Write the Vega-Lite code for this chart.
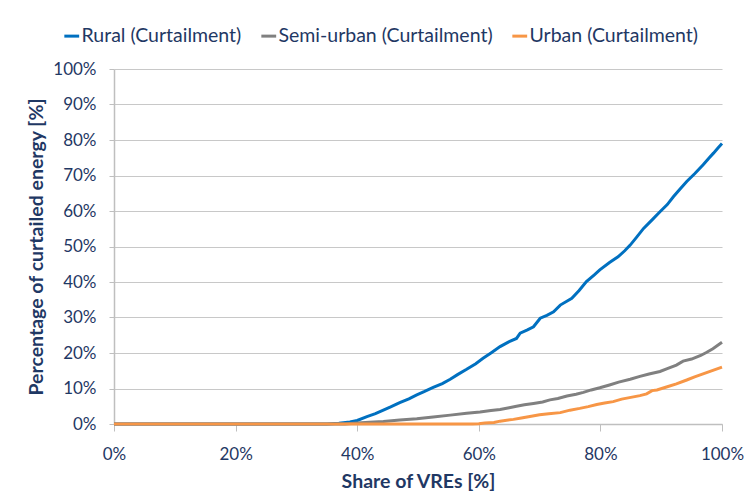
{
  "$schema": "https://vega.github.io/schema/vega-lite/v6.json",
  "width": 608,
  "height": 355,
  "autosize": {"type": "none"},
  "padding": {"left": 114, "top": 69, "right": 25, "bottom": 72},
  "background": "white",
  "config": {
    "font": "Lato",
    "view": {"stroke": null},
    "axis": {"labelFont": "Lato", "titleFont": "Lato", "labelColor": "#1F3864", "titleColor": "#1F3864", "labelFontSize": 17, "titleFontSize": 19.5, "titleFontWeight": "bold"},
    "legend": {"labelFont": "Lato", "labelColor": "#1F3864", "labelFontSize": 19.5, "labelLimit": 400}
  },
  "data": {"values": [
    {"s":"Rural (Curtailment)","x":0,"y":0},{"s":"Rural (Curtailment)","x":10,"y":0},{"s":"Rural (Curtailment)","x":20,"y":0},{"s":"Rural (Curtailment)","x":30,"y":0},{"s":"Rural (Curtailment)","x":35,"y":0},{"s":"Rural (Curtailment)","x":37,"y":0.2},{"s":"Rural (Curtailment)","x":38.8,"y":0.6},{"s":"Rural (Curtailment)","x":40,"y":1.0},{"s":"Rural (Curtailment)","x":41.6,"y":2.1},{"s":"Rural (Curtailment)","x":43,"y":2.9},{"s":"Rural (Curtailment)","x":44.3,"y":3.9},{"s":"Rural (Curtailment)","x":45.5,"y":4.8},{"s":"Rural (Curtailment)","x":47,"y":6},{"s":"Rural (Curtailment)","x":48.5,"y":7.1},{"s":"Rural (Curtailment)","x":49.8,"y":8.2},{"s":"Rural (Curtailment)","x":51,"y":9.1},{"s":"Rural (Curtailment)","x":52.5,"y":10.3},{"s":"Rural (Curtailment)","x":54,"y":11.4},{"s":"Rural (Curtailment)","x":55.3,"y":12.6},{"s":"Rural (Curtailment)","x":56.5,"y":13.9},{"s":"Rural (Curtailment)","x":58,"y":15.4},{"s":"Rural (Curtailment)","x":59.5,"y":17},{"s":"Rural (Curtailment)","x":60.7,"y":18.5},{"s":"Rural (Curtailment)","x":62,"y":20},{"s":"Rural (Curtailment)","x":63.5,"y":21.8},{"s":"Rural (Curtailment)","x":65,"y":23.2},{"s":"Rural (Curtailment)","x":66.2,"y":24.1},{"s":"Rural (Curtailment)","x":66.8,"y":25.6},{"s":"Rural (Curtailment)","x":68,"y":26.5},{"s":"Rural (Curtailment)","x":69,"y":27.4},{"s":"Rural (Curtailment)","x":70.1,"y":29.8},{"s":"Rural (Curtailment)","x":71.2,"y":30.6},{"s":"Rural (Curtailment)","x":72.3,"y":31.6},{"s":"Rural (Curtailment)","x":73.4,"y":33.5},{"s":"Rural (Curtailment)","x":75.3,"y":35.4},{"s":"Rural (Curtailment)","x":76.5,"y":37.6},{"s":"Rural (Curtailment)","x":77.7,"y":40.1},{"s":"Rural (Curtailment)","x":79,"y":42},{"s":"Rural (Curtailment)","x":79.9,"y":43.4},{"s":"Rural (Curtailment)","x":81.5,"y":45.5},{"s":"Rural (Curtailment)","x":82.9,"y":47.1},{"s":"Rural (Curtailment)","x":84,"y":48.8},{"s":"Rural (Curtailment)","x":84.9,"y":50.4},{"s":"Rural (Curtailment)","x":86,"y":52.7},{"s":"Rural (Curtailment)","x":87.1,"y":55.1},{"s":"Rural (Curtailment)","x":88.5,"y":57.5},{"s":"Rural (Curtailment)","x":89.8,"y":59.8},{"s":"Rural (Curtailment)","x":91,"y":61.8},{"s":"Rural (Curtailment)","x":92,"y":64},{"s":"Rural (Curtailment)","x":93,"y":66},{"s":"Rural (Curtailment)","x":94.2,"y":68.3},{"s":"Rural (Curtailment)","x":95.5,"y":70.5},{"s":"Rural (Curtailment)","x":96.9,"y":73},{"s":"Rural (Curtailment)","x":97.8,"y":74.8},{"s":"Rural (Curtailment)","x":98.6,"y":76.3},{"s":"Rural (Curtailment)","x":99.3,"y":77.7},{"s":"Rural (Curtailment)","x":100,"y":79},
    {"s":"Semi-urban (Curtailment)","x":0,"y":0},{"s":"Semi-urban (Curtailment)","x":20,"y":0},{"s":"Semi-urban (Curtailment)","x":38,"y":0},{"s":"Semi-urban (Curtailment)","x":40,"y":0.3},{"s":"Semi-urban (Curtailment)","x":42,"y":0.5},{"s":"Semi-urban (Curtailment)","x":44.3,"y":0.7},{"s":"Semi-urban (Curtailment)","x":47,"y":1.1},{"s":"Semi-urban (Curtailment)","x":49.8,"y":1.5},{"s":"Semi-urban (Curtailment)","x":52.5,"y":2},{"s":"Semi-urban (Curtailment)","x":55.3,"y":2.5},{"s":"Semi-urban (Curtailment)","x":58,"y":3},{"s":"Semi-urban (Curtailment)","x":60.2,"y":3.4},{"s":"Semi-urban (Curtailment)","x":62,"y":3.8},{"s":"Semi-urban (Curtailment)","x":63.5,"y":4.1},{"s":"Semi-urban (Curtailment)","x":65,"y":4.6},{"s":"Semi-urban (Curtailment)","x":66.2,"y":5},{"s":"Semi-urban (Curtailment)","x":67.5,"y":5.4},{"s":"Semi-urban (Curtailment)","x":69,"y":5.8},{"s":"Semi-urban (Curtailment)","x":70.5,"y":6.2},{"s":"Semi-urban (Curtailment)","x":71.7,"y":6.8},{"s":"Semi-urban (Curtailment)","x":73,"y":7.2},{"s":"Semi-urban (Curtailment)","x":74.5,"y":7.9},{"s":"Semi-urban (Curtailment)","x":76,"y":8.4},{"s":"Semi-urban (Curtailment)","x":77.2,"y":8.9},{"s":"Semi-urban (Curtailment)","x":78.5,"y":9.6},{"s":"Semi-urban (Curtailment)","x":79.9,"y":10.2},{"s":"Semi-urban (Curtailment)","x":81.5,"y":11},{"s":"Semi-urban (Curtailment)","x":83,"y":11.8},{"s":"Semi-urban (Curtailment)","x":84.9,"y":12.6},{"s":"Semi-urban (Curtailment)","x":86.5,"y":13.4},{"s":"Semi-urban (Curtailment)","x":88,"y":14.1},{"s":"Semi-urban (Curtailment)","x":89.8,"y":14.8},{"s":"Semi-urban (Curtailment)","x":91,"y":15.6},{"s":"Semi-urban (Curtailment)","x":92.5,"y":16.6},{"s":"Semi-urban (Curtailment)","x":93.6,"y":17.7},{"s":"Semi-urban (Curtailment)","x":95,"y":18.3},{"s":"Semi-urban (Curtailment)","x":96.5,"y":19.3},{"s":"Semi-urban (Curtailment)","x":97.5,"y":20.2},{"s":"Semi-urban (Curtailment)","x":98.5,"y":21.2},{"s":"Semi-urban (Curtailment)","x":100,"y":23},
    {"s":"Urban (Curtailment)","x":0,"y":0},{"s":"Urban (Curtailment)","x":20,"y":0},{"s":"Urban (Curtailment)","x":40,"y":0},{"s":"Urban (Curtailment)","x":59,"y":0},{"s":"Urban (Curtailment)","x":60,"y":0.1},{"s":"Urban (Curtailment)","x":61,"y":0.3},{"s":"Urban (Curtailment)","x":62.5,"y":0.4},{"s":"Urban (Curtailment)","x":63.5,"y":0.8},{"s":"Urban (Curtailment)","x":65.7,"y":1.3},{"s":"Urban (Curtailment)","x":67,"y":1.7},{"s":"Urban (Curtailment)","x":68.4,"y":2.1},{"s":"Urban (Curtailment)","x":70,"y":2.6},{"s":"Urban (Curtailment)","x":71.5,"y":2.9},{"s":"Urban (Curtailment)","x":73.4,"y":3.2},{"s":"Urban (Curtailment)","x":75,"y":3.9},{"s":"Urban (Curtailment)","x":76.6,"y":4.4},{"s":"Urban (Curtailment)","x":78,"y":4.9},{"s":"Urban (Curtailment)","x":79.4,"y":5.5},{"s":"Urban (Curtailment)","x":80.7,"y":5.9},{"s":"Urban (Curtailment)","x":82.1,"y":6.3},{"s":"Urban (Curtailment)","x":83.5,"y":7},{"s":"Urban (Curtailment)","x":85,"y":7.5},{"s":"Urban (Curtailment)","x":86.5,"y":8},{"s":"Urban (Curtailment)","x":87.6,"y":8.5},{"s":"Urban (Curtailment)","x":88.5,"y":9.4},{"s":"Urban (Curtailment)","x":89.3,"y":9.6},{"s":"Urban (Curtailment)","x":91,"y":10.5},{"s":"Urban (Curtailment)","x":92.5,"y":11.3},{"s":"Urban (Curtailment)","x":94.2,"y":12.4},{"s":"Urban (Curtailment)","x":95.5,"y":13.3},{"s":"Urban (Curtailment)","x":97,"y":14.2},{"s":"Urban (Curtailment)","x":98.5,"y":15.1},{"s":"Urban (Curtailment)","x":100,"y":16}
  ]},
  "mark": {"type": "line", "strokeWidth": 3, "clip": false},
  "encoding": {
    "x": {"field": "x", "type": "quantitative", "scale": {"domain": [0, 100], "nice": false, "zero": true},
      "axis": {"values": [0,20,40,60,80,100], "labelExpr": "datum.value + '%'", "title": "Share of VREs [%]", "grid": false, "domainColor": "#bfbfbf", "domainWidth": 1.5, "tickColor": "#bfbfbf", "tickSize": 7, "labelPadding": 15, "titlePadding": 10, "labelFlush": false}},
    "y": {"field": "y", "type": "quantitative", "scale": {"domain": [0, 100], "nice": false},
      "axis": {"values": [0,10,20,30,40,50,60,70,80,90,100], "labelExpr": "datum.value + '%'", "title": "Percentage of curtailed energy [%]", "grid": true, "gridColor": "#c8c8c8", "gridWidth": 1.2, "domainColor": "#bfbfbf", "domainWidth": 1.5, "tickColor": "#bfbfbf", "tickSize": 5, "labelPadding": 13, "titlePadding": 6, "labelFlush": false}},
    "color": {"field": "s", "type": "nominal", "sort": ["Rural (Curtailment)", "Semi-urban (Curtailment)", "Urban (Curtailment)"],
      "scale": {"domain": ["Rural (Curtailment)", "Semi-urban (Curtailment)", "Urban (Curtailment)"], "range": ["#0070C0", "#808080", "#F79646"]},
      "legend": {"title": null, "orient": "none", "direction": "horizontal", "legendX": -52, "legendY": -43, "symbolType": "stroke", "symbolSize": 220, "symbolStrokeWidth": 3, "labelOffset": 0, "columnPadding": 13}}
  }
}
